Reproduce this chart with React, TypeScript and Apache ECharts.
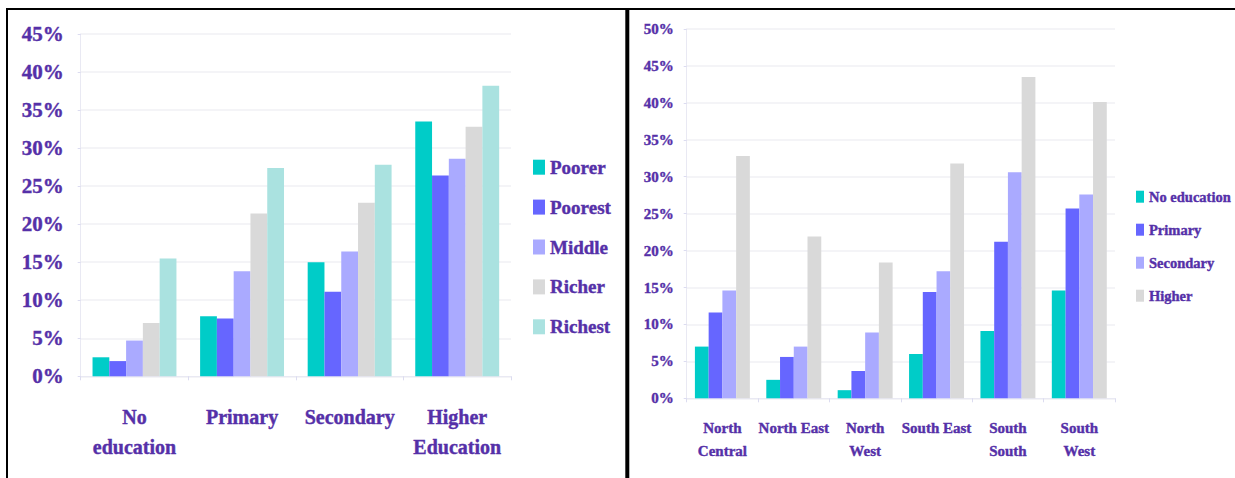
import React, { useEffect, useRef } from "react";
import * as echarts from "echarts";

// Left panel: wealth quintiles by education level
const eduCategories = ["No\neducation", "Primary", "Secondary", "Higher\nEducation"];
const poorer = [2.5, 7.9, 15.0, 33.5];
const poorest = [2.0, 7.6, 11.1, 26.4];
const middle = [4.7, 13.8, 16.4, 28.6];
const richer = [7.0, 21.4, 22.8, 32.8];
const richest = [15.5, 27.4, 27.8, 38.2];

// Right panel: education level by region
const regions = ["North\nCentral", "North East", "North\nWest", "South East", "South\nSouth", "South\nWest"];
const noEducation = [7.0, 2.5, 1.1, 6.0, 9.1, 14.6];
const primary = [11.6, 5.6, 3.7, 14.4, 21.2, 25.7];
const secondary = [14.6, 7.0, 8.9, 17.2, 30.6, 27.6];
const higher = [32.8, 21.9, 18.4, 31.8, 43.5, 40.1];

const TEXT = "#5530a8";
const FONT = "'Liberation Serif', 'Times New Roman', serif";
const GRID_LINE = "#f1f1f5";
const AXIS_LINE = "#e9e9f3";

// slightly heavier glyphs for all chart text
const heavy = { textBorderColor: TEXT, textBorderWidth: 0.4 };

export default function App() {
  const ref = useRef<HTMLDivElement>(null);

  useEffect(() => {
    if (!ref.current) return;
    const chart = echarts.init(ref.current, undefined, { renderer: "svg" });

    const bar = (name: string, data: number[], color: string, idx: number) => ({
      name,
      type: "bar",
      data,
      xAxisIndex: idx,
      yAxisIndex: idx,
      barGap: "0%",
      barCategoryGap: idx === 0 ? "22%" : "23%",
      itemStyle: { color },
    });

    const yAxisBase = (max: number, fontSize: number, margin: number) => ({
      type: "value",
      min: 0,
      max,
      interval: 5,
      axisLabel: {
        formatter: "{value}%",
        color: TEXT,
        fontFamily: FONT,
        fontWeight: "bold",
        fontSize,
        margin,
        ...heavy,
      },
      axisLine: { show: true, lineStyle: { color: AXIS_LINE } },
      axisTick: { show: true, length: 3, lineStyle: { color: "#dcdcf0" } },
      splitLine: { lineStyle: { color: GRID_LINE, width: 1.5 } },
    });

    const xAxisBase = (data: string[], fontSize: number, lineHeight: number, margin: number) => ({
      type: "category",
      data,
      axisLabel: {
        color: TEXT,
        fontFamily: FONT,
        fontWeight: "bold",
        fontSize,
        lineHeight,
        margin,
        interval: 0,
        ...heavy,
      },
      axisLine: { show: true, lineStyle: { color: AXIS_LINE } },
      axisTick: { show: true, length: 4, lineStyle: { color: "#dcdcf0" } },
    });

    chart.setOption({
      animation: false,
      backgroundColor: "#ffffff",
      grid: [
        { left: 80.7, right: 1235 - 511, top: 34, bottom: 478 - 376.3 },
        { left: 686.7, right: 1235 - 1115, top: 29, bottom: 478 - 398.3 },
      ],
      xAxis: [
        { ...xAxisBase(eduCategories, 20, 30, 26), gridIndex: 0 },
        { ...xAxisBase(regions, 15, 23, 18), gridIndex: 1 },
      ],
      yAxis: [
        { ...yAxisBase(45, 21, 17), gridIndex: 0 },
        { ...yAxisBase(50, 15, 13), gridIndex: 1 },
      ],
      legend: [
        {
          data: ["Poorer", "Poorest", "Middle", "Richer", "Richest"],
          orient: "vertical",
          left: 533,
          top: 157.5,
          padding: 0,
          itemWidth: 12,
          itemHeight: 15,
          itemGap: 20.5,
          icon: "rect",
          textStyle: {
            color: TEXT,
            fontFamily: FONT,
            fontWeight: "bold",
            fontSize: 19,
            lineHeight: 19,
            ...heavy,
          },
        },
        {
          data: ["No education", "Primary", "Secondary", "Higher"],
          orient: "vertical",
          left: 1136,
          top: 189,
          padding: 0,
          itemWidth: 8,
          itemHeight: 12,
          itemGap: 17.6,
          icon: "rect",
          textStyle: {
            color: TEXT,
            fontFamily: FONT,
            fontWeight: "bold",
            fontSize: 14.5,
            lineHeight: 15,
            ...heavy,
          },
        },
      ],
      series: [
        bar("Poorer", poorer, "#00ccc8", 0),
        bar("Poorest", poorest, "#6666ff", 0),
        bar("Middle", middle, "#aaaaff", 0),
        bar("Richer", richer, "#d9d9d9", 0),
        bar("Richest", richest, "#aae2e0", 0),
        bar("No education", noEducation, "#00ccc8", 1),
        bar("Primary", primary, "#6666ff", 1),
        bar("Secondary", secondary, "#aaaaff", 1),
        bar("Higher", higher, "#d9d9d9", 1),
      ],
      graphic: [
        { type: "line", shape: { x1: 6, y1: 9, x2: 1235, y2: 9 }, style: { stroke: "#000", lineWidth: 2 } },
        { type: "line", shape: { x1: 7, y1: 8, x2: 7, y2: 478 }, style: { stroke: "#000", lineWidth: 2 } },
        { type: "line", shape: { x1: 627.3, y1: 8, x2: 627.3, y2: 478 }, style: { stroke: "#000", lineWidth: 4 } },
      ],
    });

    return () => chart.dispose();
  }, []);

  return (
    <div
      ref={ref}
      style={{ position: "fixed", left: 0, top: 0, width: 1235, height: 478 }}
    />
  );
}
